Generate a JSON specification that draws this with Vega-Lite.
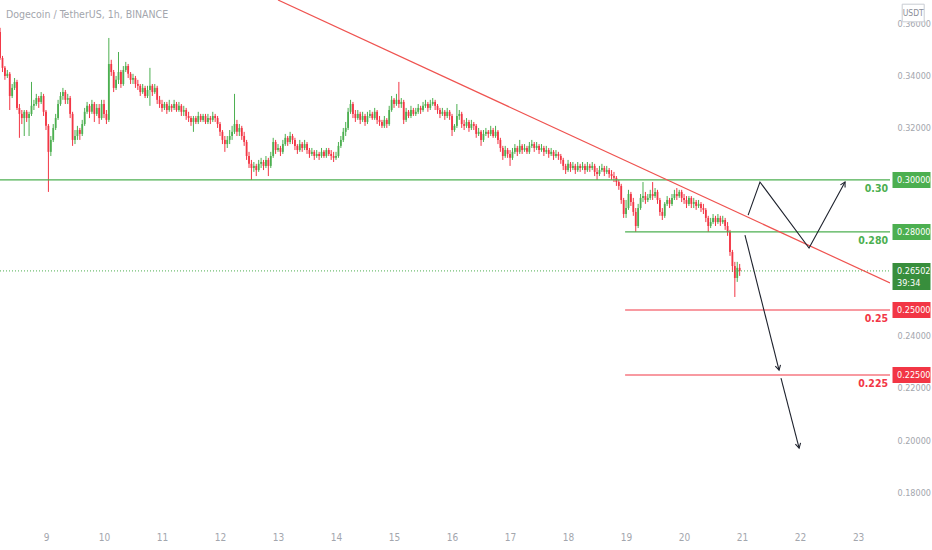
{
  "$schema": "https://vega.github.io/schema/vega-lite/v6.json",
  "width": 890,
  "height": 524,
  "autosize": "none",
  "padding": {"left": 0, "top": 0, "right": 42, "bottom": 26},
  "background": "white",
  "title": {
    "text": "Dogecoin / TetherUS, 1h, BINANCE",
    "anchor": "start",
    "frame": "group",
    "offset": -20,
    "dx": 6,
    "fontSize": 10.5,
    "fontWeight": "normal",
    "color": "#a3a6ad",
    "font": "DejaVu Sans Condensed, sans-serif"
  },
  "config": {
    "view": {"stroke": null},
    "axis": {
      "grid": false,
      "ticks": false,
      "domain": false,
      "labelColor": "#a3a6ad",
      "labelFontSize": 9,
      "labelFont": "DejaVu Sans Condensed, sans-serif"
    },
    "text": {"font": "DejaVu Sans Condensed, sans-serif"}
  },
  "datasets": {
    "candles": [
      {"t":-19,"o":0.3569,"h":0.3585,"l":0.3462,"c":0.3469},
      {"t":-18,"o":0.3469,"h":0.3477,"l":0.3415,"c":0.3431},
      {"t":-17,"o":0.3431,"h":0.3438,"l":0.3385,"c":0.3400},
      {"t":-16,"o":0.3400,"h":0.3423,"l":0.3392,"c":0.3408},
      {"t":-15,"o":0.3408,"h":0.3415,"l":0.3269,"c":0.3323},
      {"t":-14,"o":0.3323,"h":0.3369,"l":0.3315,"c":0.3354},
      {"t":-13,"o":0.3354,"h":0.3392,"l":0.3346,"c":0.3377},
      {"t":-12,"o":0.3377,"h":0.3385,"l":0.3269,"c":0.3277},
      {"t":-11,"o":0.3277,"h":0.3292,"l":0.3162,"c":0.3254},
      {"t":-10,"o":0.3254,"h":0.3269,"l":0.3215,"c":0.3238},
      {"t":-9,"o":0.3238,"h":0.3269,"l":0.3169,"c":0.3262},
      {"t":-8,"o":0.3262,"h":0.3269,"l":0.3223,"c":0.3238},
      {"t":-7,"o":0.3238,"h":0.3262,"l":0.3169,"c":0.3254},
      {"t":-6,"o":0.3254,"h":0.3377,"l":0.3246,"c":0.3285},
      {"t":-5,"o":0.3285,"h":0.3308,"l":0.3269,"c":0.3292},
      {"t":-4,"o":0.3292,"h":0.3331,"l":0.3285,"c":0.3315},
      {"t":-3,"o":0.3315,"h":0.3323,"l":0.3277,"c":0.3300},
      {"t":-2,"o":0.3300,"h":0.3338,"l":0.3292,"c":0.3323},
      {"t":-1,"o":0.3323,"h":0.3331,"l":0.3246,"c":0.3262},
      {"t":0,"o":0.3262,"h":0.3269,"l":0.3192,"c":0.3208},
      {"t":1,"o":0.3208,"h":0.3215,"l":0.2954,"c":0.3108},
      {"t":2,"o":0.3108,"h":0.3169,"l":0.3092,"c":0.3154},
      {"t":3,"o":0.3154,"h":0.3215,"l":0.3146,"c":0.3200},
      {"t":4,"o":0.3200,"h":0.3254,"l":0.3192,"c":0.3238},
      {"t":5,"o":0.3238,"h":0.3308,"l":0.3231,"c":0.3292},
      {"t":6,"o":0.3292,"h":0.3338,"l":0.3285,"c":0.3323},
      {"t":7,"o":0.3323,"h":0.3354,"l":0.3308,"c":0.3338},
      {"t":8,"o":0.3338,"h":0.3346,"l":0.3292,"c":0.3308},
      {"t":9,"o":0.3308,"h":0.3331,"l":0.3292,"c":0.3315},
      {"t":10,"o":0.3315,"h":0.3323,"l":0.3238,"c":0.3254},
      {"t":11,"o":0.3254,"h":0.3262,"l":0.3131,"c":0.3154},
      {"t":12,"o":0.3154,"h":0.3192,"l":0.3138,"c":0.3169},
      {"t":13,"o":0.3169,"h":0.3208,"l":0.3154,"c":0.3192},
      {"t":14,"o":0.3192,"h":0.3200,"l":0.3154,"c":0.3177},
      {"t":15,"o":0.3177,"h":0.3231,"l":0.3169,"c":0.3215},
      {"t":16,"o":0.3215,"h":0.3277,"l":0.3208,"c":0.3262},
      {"t":17,"o":0.3262,"h":0.3300,"l":0.3254,"c":0.3285},
      {"t":18,"o":0.3285,"h":0.3292,"l":0.3238,"c":0.3262},
      {"t":19,"o":0.3262,"h":0.3308,"l":0.3254,"c":0.3292},
      {"t":20,"o":0.3292,"h":0.3300,"l":0.3223,"c":0.3254},
      {"t":21,"o":0.3254,"h":0.3292,"l":0.3246,"c":0.3277},
      {"t":22,"o":0.3277,"h":0.3292,"l":0.3215,"c":0.3238},
      {"t":23,"o":0.3238,"h":0.3308,"l":0.3231,"c":0.3292},
      {"t":24,"o":0.3292,"h":0.3308,"l":0.3238,"c":0.3254},
      {"t":25,"o":0.3254,"h":0.3269,"l":0.3215,"c":0.3231},
      {"t":26,"o":0.3231,"h":0.3546,"l":0.3223,"c":0.3446},
      {"t":27,"o":0.3446,"h":0.3462,"l":0.3400,"c":0.3415},
      {"t":28,"o":0.3415,"h":0.3423,"l":0.3338,"c":0.3354},
      {"t":29,"o":0.3354,"h":0.3400,"l":0.3346,"c":0.3385},
      {"t":30,"o":0.3385,"h":0.3492,"l":0.3369,"c":0.3415},
      {"t":31,"o":0.3415,"h":0.3423,"l":0.3354,"c":0.3369},
      {"t":32,"o":0.3369,"h":0.3438,"l":0.3362,"c":0.3423},
      {"t":33,"o":0.3423,"h":0.3454,"l":0.3415,"c":0.3438},
      {"t":34,"o":0.3438,"h":0.3446,"l":0.3392,"c":0.3408},
      {"t":35,"o":0.3408,"h":0.3415,"l":0.3369,"c":0.3385},
      {"t":36,"o":0.3385,"h":0.3408,"l":0.3369,"c":0.3392},
      {"t":37,"o":0.3392,"h":0.3400,"l":0.3354,"c":0.3369},
      {"t":38,"o":0.3369,"h":0.3385,"l":0.3346,"c":0.3362},
      {"t":39,"o":0.3362,"h":0.3369,"l":0.3323,"c":0.3338},
      {"t":40,"o":0.3338,"h":0.3369,"l":0.3331,"c":0.3354},
      {"t":41,"o":0.3354,"h":0.3362,"l":0.3315,"c":0.3323},
      {"t":42,"o":0.3323,"h":0.3362,"l":0.3315,"c":0.3346},
      {"t":43,"o":0.3346,"h":0.3431,"l":0.3285,"c":0.3362},
      {"t":44,"o":0.3362,"h":0.3369,"l":0.3323,"c":0.3338},
      {"t":45,"o":0.3338,"h":0.3369,"l":0.3331,"c":0.3354},
      {"t":46,"o":0.3354,"h":0.3362,"l":0.3292,"c":0.3308},
      {"t":47,"o":0.3308,"h":0.3323,"l":0.3277,"c":0.3292},
      {"t":48,"o":0.3292,"h":0.3308,"l":0.3262,"c":0.3277},
      {"t":49,"o":0.3277,"h":0.3300,"l":0.3269,"c":0.3292},
      {"t":50,"o":0.3292,"h":0.3300,"l":0.3254,"c":0.3269},
      {"t":51,"o":0.3269,"h":0.3308,"l":0.3262,"c":0.3285},
      {"t":52,"o":0.3285,"h":0.3292,"l":0.3262,"c":0.3277},
      {"t":53,"o":0.3277,"h":0.3308,"l":0.3269,"c":0.3292},
      {"t":54,"o":0.3292,"h":0.3300,"l":0.3262,"c":0.3269},
      {"t":55,"o":0.3269,"h":0.3300,"l":0.3262,"c":0.3285},
      {"t":56,"o":0.3285,"h":0.3292,"l":0.3246,"c":0.3262},
      {"t":57,"o":0.3262,"h":0.3285,"l":0.3246,"c":0.3269},
      {"t":58,"o":0.3269,"h":0.3277,"l":0.3231,"c":0.3246},
      {"t":59,"o":0.3246,"h":0.3262,"l":0.3223,"c":0.3238},
      {"t":60,"o":0.3238,"h":0.3246,"l":0.3208,"c":0.3223},
      {"t":61,"o":0.3223,"h":0.3246,"l":0.3185,"c":0.3238},
      {"t":62,"o":0.3238,"h":0.3246,"l":0.3215,"c":0.3223},
      {"t":63,"o":0.3223,"h":0.3262,"l":0.3215,"c":0.3246},
      {"t":64,"o":0.3246,"h":0.3254,"l":0.3223,"c":0.3231},
      {"t":65,"o":0.3231,"h":0.3254,"l":0.3223,"c":0.3246},
      {"t":66,"o":0.3246,"h":0.3254,"l":0.3215,"c":0.3223},
      {"t":67,"o":0.3223,"h":0.3254,"l":0.3215,"c":0.3238},
      {"t":68,"o":0.3238,"h":0.3246,"l":0.3215,"c":0.3231},
      {"t":69,"o":0.3231,"h":0.3262,"l":0.3223,"c":0.3246},
      {"t":70,"o":0.3246,"h":0.3254,"l":0.3223,"c":0.3238},
      {"t":71,"o":0.3238,"h":0.3246,"l":0.3200,"c":0.3215},
      {"t":72,"o":0.3215,"h":0.3223,"l":0.3169,"c":0.3185},
      {"t":73,"o":0.3185,"h":0.3192,"l":0.3138,"c":0.3154},
      {"t":74,"o":0.3154,"h":0.3169,"l":0.3108,"c":0.3138},
      {"t":75,"o":0.3138,"h":0.3169,"l":0.3123,"c":0.3154},
      {"t":76,"o":0.3154,"h":0.3192,"l":0.3138,"c":0.3169},
      {"t":77,"o":0.3169,"h":0.3208,"l":0.3154,"c":0.3185},
      {"t":78,"o":0.3185,"h":0.3331,"l":0.3177,"c":0.3215},
      {"t":79,"o":0.3215,"h":0.3231,"l":0.3169,"c":0.3185},
      {"t":80,"o":0.3185,"h":0.3215,"l":0.3169,"c":0.3200},
      {"t":81,"o":0.3200,"h":0.3208,"l":0.3154,"c":0.3169},
      {"t":82,"o":0.3169,"h":0.3185,"l":0.3131,"c":0.3146},
      {"t":83,"o":0.3146,"h":0.3154,"l":0.3077,"c":0.3092},
      {"t":84,"o":0.3092,"h":0.3108,"l":0.3046,"c":0.3062},
      {"t":85,"o":0.3062,"h":0.3077,"l":0.3000,"c":0.3046},
      {"t":86,"o":0.3046,"h":0.3069,"l":0.3031,"c":0.3054},
      {"t":87,"o":0.3054,"h":0.3062,"l":0.3015,"c":0.3038},
      {"t":88,"o":0.3038,"h":0.3077,"l":0.3031,"c":0.3062},
      {"t":89,"o":0.3062,"h":0.3085,"l":0.3046,"c":0.3069},
      {"t":90,"o":0.3069,"h":0.3077,"l":0.3038,"c":0.3054},
      {"t":91,"o":0.3054,"h":0.3092,"l":0.3046,"c":0.3077},
      {"t":92,"o":0.3077,"h":0.3085,"l":0.3015,"c":0.3054},
      {"t":93,"o":0.3054,"h":0.3108,"l":0.3046,"c":0.3092},
      {"t":94,"o":0.3092,"h":0.3162,"l":0.3085,"c":0.3146},
      {"t":95,"o":0.3146,"h":0.3154,"l":0.3100,"c":0.3115},
      {"t":96,"o":0.3115,"h":0.3138,"l":0.3108,"c":0.3123},
      {"t":97,"o":0.3123,"h":0.3131,"l":0.3092,"c":0.3108},
      {"t":98,"o":0.3108,"h":0.3154,"l":0.3100,"c":0.3138},
      {"t":99,"o":0.3138,"h":0.3177,"l":0.3131,"c":0.3162},
      {"t":100,"o":0.3162,"h":0.3169,"l":0.3131,"c":0.3146},
      {"t":101,"o":0.3146,"h":0.3185,"l":0.3138,"c":0.3169},
      {"t":102,"o":0.3169,"h":0.3177,"l":0.3138,"c":0.3154},
      {"t":103,"o":0.3154,"h":0.3162,"l":0.3115,"c":0.3131},
      {"t":104,"o":0.3131,"h":0.3138,"l":0.3100,"c":0.3115},
      {"t":105,"o":0.3115,"h":0.3154,"l":0.3108,"c":0.3138},
      {"t":106,"o":0.3138,"h":0.3146,"l":0.3108,"c":0.3123},
      {"t":107,"o":0.3123,"h":0.3154,"l":0.3115,"c":0.3138},
      {"t":108,"o":0.3138,"h":0.3146,"l":0.3100,"c":0.3115},
      {"t":109,"o":0.3115,"h":0.3123,"l":0.3085,"c":0.3100},
      {"t":110,"o":0.3100,"h":0.3123,"l":0.3092,"c":0.3108},
      {"t":111,"o":0.3108,"h":0.3115,"l":0.3077,"c":0.3092},
      {"t":112,"o":0.3092,"h":0.3115,"l":0.3085,"c":0.3100},
      {"t":113,"o":0.3100,"h":0.3108,"l":0.3077,"c":0.3092},
      {"t":114,"o":0.3092,"h":0.3123,"l":0.3085,"c":0.3108},
      {"t":115,"o":0.3108,"h":0.3115,"l":0.3085,"c":0.3092},
      {"t":116,"o":0.3092,"h":0.3123,"l":0.3085,"c":0.3115},
      {"t":117,"o":0.3115,"h":0.3123,"l":0.3092,"c":0.3100},
      {"t":118,"o":0.3100,"h":0.3115,"l":0.3077,"c":0.3092},
      {"t":119,"o":0.3092,"h":0.3108,"l":0.3069,"c":0.3085},
      {"t":120,"o":0.3085,"h":0.3108,"l":0.3077,"c":0.3092},
      {"t":121,"o":0.3092,"h":0.3146,"l":0.3085,"c":0.3131},
      {"t":122,"o":0.3131,"h":0.3169,"l":0.3123,"c":0.3154},
      {"t":123,"o":0.3154,"h":0.3200,"l":0.3146,"c":0.3185},
      {"t":124,"o":0.3185,"h":0.3223,"l":0.3169,"c":0.3200},
      {"t":125,"o":0.3200,"h":0.3277,"l":0.3192,"c":0.3262},
      {"t":126,"o":0.3262,"h":0.3308,"l":0.3254,"c":0.3292},
      {"t":127,"o":0.3292,"h":0.3300,"l":0.3238,"c":0.3254},
      {"t":128,"o":0.3254,"h":0.3269,"l":0.3223,"c":0.3238},
      {"t":129,"o":0.3238,"h":0.3269,"l":0.3231,"c":0.3254},
      {"t":130,"o":0.3254,"h":0.3262,"l":0.3215,"c":0.3231},
      {"t":131,"o":0.3231,"h":0.3262,"l":0.3223,"c":0.3246},
      {"t":132,"o":0.3246,"h":0.3254,"l":0.3208,"c":0.3223},
      {"t":133,"o":0.3223,"h":0.3262,"l":0.3215,"c":0.3246},
      {"t":134,"o":0.3246,"h":0.3269,"l":0.3238,"c":0.3254},
      {"t":135,"o":0.3254,"h":0.3262,"l":0.3231,"c":0.3238},
      {"t":136,"o":0.3238,"h":0.3277,"l":0.3231,"c":0.3262},
      {"t":137,"o":0.3262,"h":0.3269,"l":0.3215,"c":0.3231},
      {"t":138,"o":0.3231,"h":0.3246,"l":0.3208,"c":0.3223},
      {"t":139,"o":0.3223,"h":0.3231,"l":0.3200,"c":0.3208},
      {"t":140,"o":0.3208,"h":0.3246,"l":0.3200,"c":0.3231},
      {"t":141,"o":0.3231,"h":0.3238,"l":0.3200,"c":0.3215},
      {"t":142,"o":0.3215,"h":0.3285,"l":0.3208,"c":0.3269},
      {"t":143,"o":0.3269,"h":0.3323,"l":0.3262,"c":0.3308},
      {"t":144,"o":0.3308,"h":0.3315,"l":0.3277,"c":0.3292},
      {"t":145,"o":0.3292,"h":0.3331,"l":0.3285,"c":0.3308},
      {"t":146,"o":0.3308,"h":0.3377,"l":0.3277,"c":0.3292},
      {"t":147,"o":0.3292,"h":0.3315,"l":0.3277,"c":0.3300},
      {"t":148,"o":0.3300,"h":0.3308,"l":0.3215,"c":0.3231},
      {"t":149,"o":0.3231,"h":0.3277,"l":0.3223,"c":0.3262},
      {"t":150,"o":0.3262,"h":0.3269,"l":0.3238,"c":0.3246},
      {"t":151,"o":0.3246,"h":0.3285,"l":0.3238,"c":0.3269},
      {"t":152,"o":0.3269,"h":0.3277,"l":0.3246,"c":0.3254},
      {"t":153,"o":0.3254,"h":0.3277,"l":0.3246,"c":0.3262},
      {"t":154,"o":0.3262,"h":0.3292,"l":0.3254,"c":0.3277},
      {"t":155,"o":0.3277,"h":0.3285,"l":0.3254,"c":0.3269},
      {"t":156,"o":0.3269,"h":0.3300,"l":0.3262,"c":0.3285},
      {"t":157,"o":0.3285,"h":0.3308,"l":0.3277,"c":0.3292},
      {"t":158,"o":0.3292,"h":0.3300,"l":0.3262,"c":0.3277},
      {"t":159,"o":0.3277,"h":0.3308,"l":0.3269,"c":0.3292},
      {"t":160,"o":0.3292,"h":0.3315,"l":0.3285,"c":0.3300},
      {"t":161,"o":0.3300,"h":0.3308,"l":0.3269,"c":0.3285},
      {"t":162,"o":0.3285,"h":0.3292,"l":0.3254,"c":0.3269},
      {"t":163,"o":0.3269,"h":0.3277,"l":0.3238,"c":0.3254},
      {"t":164,"o":0.3254,"h":0.3277,"l":0.3246,"c":0.3262},
      {"t":165,"o":0.3262,"h":0.3269,"l":0.3231,"c":0.3246},
      {"t":166,"o":0.3246,"h":0.3277,"l":0.3238,"c":0.3262},
      {"t":167,"o":0.3262,"h":0.3269,"l":0.3231,"c":0.3246},
      {"t":168,"o":0.3246,"h":0.3254,"l":0.3169,"c":0.3192},
      {"t":169,"o":0.3192,"h":0.3215,"l":0.3185,"c":0.3208},
      {"t":170,"o":0.3208,"h":0.3292,"l":0.3200,"c":0.3246},
      {"t":171,"o":0.3246,"h":0.3269,"l":0.3231,"c":0.3254},
      {"t":172,"o":0.3254,"h":0.3262,"l":0.3200,"c":0.3215},
      {"t":173,"o":0.3215,"h":0.3231,"l":0.3192,"c":0.3208},
      {"t":174,"o":0.3208,"h":0.3238,"l":0.3200,"c":0.3223},
      {"t":175,"o":0.3223,"h":0.3231,"l":0.3185,"c":0.3200},
      {"t":176,"o":0.3200,"h":0.3231,"l":0.3192,"c":0.3215},
      {"t":177,"o":0.3215,"h":0.3223,"l":0.3192,"c":0.3208},
      {"t":178,"o":0.3208,"h":0.3215,"l":0.3162,"c":0.3177},
      {"t":179,"o":0.3177,"h":0.3200,"l":0.3169,"c":0.3185},
      {"t":180,"o":0.3185,"h":0.3192,"l":0.3131,"c":0.3154},
      {"t":181,"o":0.3154,"h":0.3192,"l":0.3146,"c":0.3177},
      {"t":182,"o":0.3177,"h":0.3200,"l":0.3169,"c":0.3185},
      {"t":183,"o":0.3185,"h":0.3192,"l":0.3162,"c":0.3177},
      {"t":184,"o":0.3177,"h":0.3208,"l":0.3169,"c":0.3192},
      {"t":185,"o":0.3192,"h":0.3200,"l":0.3162,"c":0.3169},
      {"t":186,"o":0.3169,"h":0.3208,"l":0.3162,"c":0.3185},
      {"t":187,"o":0.3185,"h":0.3192,"l":0.3138,"c":0.3154},
      {"t":188,"o":0.3154,"h":0.3162,"l":0.3108,"c":0.3123},
      {"t":189,"o":0.3123,"h":0.3131,"l":0.3077,"c":0.3092},
      {"t":190,"o":0.3092,"h":0.3131,"l":0.3085,"c":0.3115},
      {"t":191,"o":0.3115,"h":0.3123,"l":0.3085,"c":0.3100},
      {"t":192,"o":0.3100,"h":0.3115,"l":0.3054,"c":0.3085},
      {"t":193,"o":0.3085,"h":0.3123,"l":0.3077,"c":0.3108},
      {"t":194,"o":0.3108,"h":0.3138,"l":0.3100,"c":0.3123},
      {"t":195,"o":0.3123,"h":0.3131,"l":0.3092,"c":0.3108},
      {"t":196,"o":0.3108,"h":0.3154,"l":0.3100,"c":0.3131},
      {"t":197,"o":0.3131,"h":0.3138,"l":0.3100,"c":0.3115},
      {"t":198,"o":0.3115,"h":0.3138,"l":0.3108,"c":0.3123},
      {"t":199,"o":0.3123,"h":0.3131,"l":0.3100,"c":0.3108},
      {"t":200,"o":0.3108,"h":0.3146,"l":0.3100,"c":0.3131},
      {"t":201,"o":0.3131,"h":0.3154,"l":0.3123,"c":0.3138},
      {"t":202,"o":0.3138,"h":0.3146,"l":0.3108,"c":0.3123},
      {"t":203,"o":0.3123,"h":0.3146,"l":0.3115,"c":0.3131},
      {"t":204,"o":0.3131,"h":0.3138,"l":0.3100,"c":0.3115},
      {"t":205,"o":0.3115,"h":0.3138,"l":0.3108,"c":0.3123},
      {"t":206,"o":0.3123,"h":0.3131,"l":0.3092,"c":0.3108},
      {"t":207,"o":0.3108,"h":0.3131,"l":0.3100,"c":0.3115},
      {"t":208,"o":0.3115,"h":0.3123,"l":0.3085,"c":0.3100},
      {"t":209,"o":0.3100,"h":0.3123,"l":0.3092,"c":0.3108},
      {"t":210,"o":0.3108,"h":0.3115,"l":0.3077,"c":0.3092},
      {"t":211,"o":0.3092,"h":0.3115,"l":0.3085,"c":0.3100},
      {"t":212,"o":0.3100,"h":0.3108,"l":0.3077,"c":0.3092},
      {"t":213,"o":0.3092,"h":0.3100,"l":0.3062,"c":0.3077},
      {"t":214,"o":0.3077,"h":0.3085,"l":0.3038,"c":0.3054},
      {"t":215,"o":0.3054,"h":0.3062,"l":0.3023,"c":0.3038},
      {"t":216,"o":0.3038,"h":0.3077,"l":0.3031,"c":0.3062},
      {"t":217,"o":0.3062,"h":0.3069,"l":0.3031,"c":0.3046},
      {"t":218,"o":0.3046,"h":0.3069,"l":0.3038,"c":0.3054},
      {"t":219,"o":0.3054,"h":0.3062,"l":0.3023,"c":0.3038},
      {"t":220,"o":0.3038,"h":0.3069,"l":0.3031,"c":0.3054},
      {"t":221,"o":0.3054,"h":0.3062,"l":0.3031,"c":0.3046},
      {"t":222,"o":0.3046,"h":0.3069,"l":0.3038,"c":0.3054},
      {"t":223,"o":0.3054,"h":0.3062,"l":0.3023,"c":0.3038},
      {"t":224,"o":0.3038,"h":0.3069,"l":0.3031,"c":0.3054},
      {"t":225,"o":0.3054,"h":0.3062,"l":0.3031,"c":0.3046},
      {"t":226,"o":0.3046,"h":0.3069,"l":0.3038,"c":0.3054},
      {"t":227,"o":0.3054,"h":0.3062,"l":0.3015,"c":0.3031},
      {"t":228,"o":0.3031,"h":0.3046,"l":0.3000,"c":0.3023},
      {"t":229,"o":0.3023,"h":0.3054,"l":0.3015,"c":0.3038},
      {"t":230,"o":0.3038,"h":0.3062,"l":0.3031,"c":0.3046},
      {"t":231,"o":0.3046,"h":0.3054,"l":0.3015,"c":0.3031},
      {"t":232,"o":0.3031,"h":0.3054,"l":0.3023,"c":0.3038},
      {"t":233,"o":0.3038,"h":0.3046,"l":0.3008,"c":0.3023},
      {"t":234,"o":0.3023,"h":0.3038,"l":0.3000,"c":0.3015},
      {"t":235,"o":0.3015,"h":0.3031,"l":0.2992,"c":0.3008},
      {"t":236,"o":0.3008,"h":0.3015,"l":0.2977,"c":0.2992},
      {"t":237,"o":0.2992,"h":0.3000,"l":0.2962,"c":0.2977},
      {"t":238,"o":0.2977,"h":0.2985,"l":0.2908,"c":0.2923},
      {"t":239,"o":0.2923,"h":0.2931,"l":0.2854,"c":0.2869},
      {"t":240,"o":0.2869,"h":0.2923,"l":0.2854,"c":0.2892},
      {"t":241,"o":0.2892,"h":0.2962,"l":0.2885,"c":0.2946},
      {"t":242,"o":0.2946,"h":0.2954,"l":0.2900,"c":0.2915},
      {"t":243,"o":0.2915,"h":0.2931,"l":0.2862,"c":0.2877},
      {"t":244,"o":0.2877,"h":0.2892,"l":0.2800,"c":0.2823},
      {"t":245,"o":0.2823,"h":0.2908,"l":0.2815,"c":0.2892},
      {"t":246,"o":0.2892,"h":0.2946,"l":0.2885,"c":0.2931},
      {"t":247,"o":0.2931,"h":0.2992,"l":0.2915,"c":0.2938},
      {"t":248,"o":0.2938,"h":0.2954,"l":0.2908,"c":0.2923},
      {"t":249,"o":0.2923,"h":0.2946,"l":0.2915,"c":0.2931},
      {"t":250,"o":0.2931,"h":0.2962,"l":0.2923,"c":0.2946},
      {"t":251,"o":0.2946,"h":0.2992,"l":0.2923,"c":0.2938},
      {"t":252,"o":0.2938,"h":0.2969,"l":0.2931,"c":0.2954},
      {"t":253,"o":0.2954,"h":0.2962,"l":0.2908,"c":0.2923},
      {"t":254,"o":0.2923,"h":0.2931,"l":0.2862,"c":0.2877},
      {"t":255,"o":0.2877,"h":0.2892,"l":0.2846,"c":0.2862},
      {"t":256,"o":0.2862,"h":0.2915,"l":0.2854,"c":0.2908},
      {"t":257,"o":0.2908,"h":0.2938,"l":0.2900,"c":0.2923},
      {"t":258,"o":0.2923,"h":0.2931,"l":0.2892,"c":0.2908},
      {"t":259,"o":0.2908,"h":0.2946,"l":0.2900,"c":0.2931},
      {"t":260,"o":0.2931,"h":0.2962,"l":0.2923,"c":0.2946},
      {"t":261,"o":0.2946,"h":0.2969,"l":0.2923,"c":0.2938},
      {"t":262,"o":0.2938,"h":0.2962,"l":0.2931,"c":0.2954},
      {"t":263,"o":0.2954,"h":0.2962,"l":0.2915,"c":0.2931},
      {"t":264,"o":0.2931,"h":0.2946,"l":0.2908,"c":0.2923},
      {"t":265,"o":0.2923,"h":0.2938,"l":0.2892,"c":0.2908},
      {"t":266,"o":0.2908,"h":0.2938,"l":0.2900,"c":0.2931},
      {"t":267,"o":0.2931,"h":0.2938,"l":0.2892,"c":0.2908},
      {"t":268,"o":0.2908,"h":0.2931,"l":0.2892,"c":0.2915},
      {"t":269,"o":0.2915,"h":0.2923,"l":0.2885,"c":0.2900},
      {"t":270,"o":0.2900,"h":0.2923,"l":0.2892,"c":0.2908},
      {"t":271,"o":0.2908,"h":0.2915,"l":0.2877,"c":0.2892},
      {"t":272,"o":0.2892,"h":0.2908,"l":0.2869,"c":0.2885},
      {"t":273,"o":0.2885,"h":0.2892,"l":0.2838,"c":0.2854},
      {"t":274,"o":0.2854,"h":0.2862,"l":0.2800,"c":0.2823},
      {"t":275,"o":0.2823,"h":0.2854,"l":0.2815,"c":0.2838},
      {"t":276,"o":0.2838,"h":0.2869,"l":0.2831,"c":0.2854},
      {"t":277,"o":0.2854,"h":0.2862,"l":0.2823,"c":0.2838},
      {"t":278,"o":0.2838,"h":0.2869,"l":0.2831,"c":0.2854},
      {"t":279,"o":0.2854,"h":0.2862,"l":0.2823,"c":0.2838},
      {"t":280,"o":0.2838,"h":0.2862,"l":0.2831,"c":0.2846},
      {"t":281,"o":0.2846,"h":0.2854,"l":0.2808,"c":0.2823},
      {"t":282,"o":0.2823,"h":0.2838,"l":0.2785,"c":0.2800},
      {"t":283,"o":0.2800,"h":0.2808,"l":0.2708,"c":0.2723},
      {"t":284,"o":0.2723,"h":0.2731,"l":0.2646,"c":0.2669},
      {"t":285,"o":0.2669,"h":0.2685,"l":0.2550,"c":0.2623},
      {"t":286,"o":0.2623,"h":0.2685,"l":0.2608,"c":0.2662},
      {"t":287,"o":0.2662,"h":0.2677,"l":0.2631,"c":0.2650}
    ],
    "levels": [
      {"p":0.30,"t0":-19.03,"dir":"up","label":"0.30","box":"0.30000"},
      {"p":0.28,"t0":239.6,"dir":"up","label":"0.280","box":"0.28000"},
      {"p":0.25,"t0":239.6,"dir":"down","label":"0.25","box":"0.25000"},
      {"p":0.225,"t0":239.6,"dir":"down","label":"0.225","box":"0.22500"}
    ],
    "last": [
      {"p":0.26502,"price":"0.26502","countdown":"39:34"}
    ],
    "trend": [
      {"t":96.0,"p":0.3692},
      {"t":349.2,"p":0.2604}
    ],
    "arrows": [
      {"seg":"a","i":0,"t":290.5,"p":0.2865},
      {"seg":"a","i":1,"t":295.4,"p":0.2992},
      {"seg":"a","i":2,"t":315.7,"p":0.2738},
      {"seg":"a","i":3,"t":330.6,"p":0.2992},
      {"seg":"b","i":0,"t":289.2,"p":0.2788},
      {"seg":"b","i":1,"t":303.3,"p":0.2269},
      {"seg":"c","i":0,"t":304.1,"p":0.2238},
      {"seg":"c","i":1,"t":311.6,"p":0.1969}
    ],
    "tips": [
      {"seg":"a","t":330.6,"p":0.2992},
      {"seg":"b","t":303.3,"p":0.2269},
      {"seg":"c","t":311.6,"p":0.1969}
    ]
  },
  "encoding": {
    "x": {
      "type": "quantitative",
      "scale": {"domain": [-19.03, 349.2], "nice": false, "zero": false, "padding": 0},
      "axis": {
        "orient": "bottom",
        "title": null,
        "values": [0, 24, 48, 72, 96, 120, 144, 168, 192, 216, 240, 264, 288, 312, 336],
        "labelExpr": "datum.value / 24 + 9",
        "labelPadding": 8,
        "labelFontSize": 10
      }
    },
    "y": {
      "type": "quantitative",
      "scale": {"domain": [0.1677, 0.3692], "nice": false, "zero": false},
      "axis": {
        "orient": "right",
        "title": null,
        "values": [0.18, 0.2, 0.22, 0.24, 0.32, 0.34, 0.36],
        "format": ".5f",
        "labelPadding": 7
      }
    }
  },
  "layer": [
    {
      "data": {"name": "candles"},
      "mark": {"type": "rule", "strokeWidth": 1},
      "encoding": {
        "x": {"field": "t", "type": "quantitative"},
        "y": {"field": "l", "type": "quantitative"},
        "y2": {"field": "h"},
        "color": {
          "condition": {"test": "datum.c >= datum.o", "value": "#4caf50"},
          "value": "#f23645"
        }
      }
    },
    {
      "data": {"name": "candles"},
      "mark": {"type": "bar", "size": 1.8},
      "encoding": {
        "x": {"field": "t", "type": "quantitative"},
        "y": {"field": "o", "type": "quantitative"},
        "y2": {"field": "c"},
        "color": {
          "condition": {"test": "datum.c >= datum.o", "value": "#4caf50"},
          "value": "#f23645"
        }
      }
    },
    {
      "data": {"name": "levels"},
      "mark": {"type": "rule", "strokeWidth": 1.2},
      "encoding": {
        "x": {"field": "t0", "type": "quantitative"},
        "x2": {"datum": 349.2},
        "y": {"field": "p", "type": "quantitative"},
        "color": {
          "field": "dir",
          "type": "nominal",
          "scale": {"domain": ["up", "down"], "range": ["#4caf50", "#f23645"]},
          "legend": null
        }
      }
    },
    {
      "data": {"name": "last"},
      "mark": {"type": "rule", "strokeWidth": 1, "strokeDash": [1, 2], "color": "#4caf50"},
      "encoding": {
        "x": {"datum": -19.03, "type": "quantitative"},
        "x2": {"datum": 349.2},
        "y": {"field": "p", "type": "quantitative"}
      }
    },
    {
      "data": {"name": "trend"},
      "mark": {"type": "line", "strokeWidth": 1.2, "color": "#ef5350", "clip": true},
      "encoding": {
        "x": {"field": "t", "type": "quantitative"},
        "y": {"field": "p", "type": "quantitative"}
      }
    },
    {
      "data": {"name": "arrows"},
      "mark": {"type": "line", "strokeWidth": 1.1, "color": "#1e222d"},
      "encoding": {
        "x": {"field": "t", "type": "quantitative"},
        "y": {"field": "p", "type": "quantitative"},
        "detail": {"field": "seg", "type": "nominal"},
        "order": {"field": "i", "type": "quantitative"}
      }
    },
    {
      "data": {"name": "tips"},
      "mark": {
        "type": "point",
        "shape": "M-0.45,0.8L0,0L0.45,0.8",
        "filled": false,
        "strokeWidth": 1.1,
        "color": "#1e222d",
        "opacity": 1,
        "size": 140
      },
      "encoding": {
        "x": {"field": "t", "type": "quantitative"},
        "y": {"field": "p", "type": "quantitative"},
        "angle": {
          "condition": {"test": "datum.seg == 'a'", "value": 29},
          "value": 166
        }
      }
    },
    {
      "data": {"name": "levels"},
      "mark": {"type": "text", "align": "right", "baseline": "middle", "dy": 9, "fontSize": 10.5, "fontWeight": "bold"},
      "encoding": {
        "x": {"datum": 348.4, "type": "quantitative"},
        "y": {"field": "p", "type": "quantitative"},
        "text": {"field": "label"},
        "color": {
          "field": "dir",
          "type": "nominal",
          "scale": {"domain": ["up", "down"], "range": ["#4caf50", "#f23645"]},
          "legend": null
        }
      }
    },
    {
      "data": {"name": "levels"},
      "mark": {
        "type": "point",
        "shape": "M-1,-0.42L1,-0.42L1,0.42L-1,0.42Z",
        "filled": true,
        "opacity": 1,
        "size": 1444
      },
      "encoding": {
        "x": {"datum": 358.1, "type": "quantitative"},
        "y": {"field": "p", "type": "quantitative"},
        "color": {
          "field": "dir",
          "type": "nominal",
          "scale": {"domain": ["up", "down"], "range": ["#4caf50", "#f23645"]},
          "legend": null
        }
      }
    },
    {
      "data": {"name": "last"},
      "mark": {
        "type": "point",
        "shape": "M-1,-0.42L1,-0.42L1,1L-1,1Z",
        "filled": true,
        "opacity": 1,
        "size": 1444,
        "color": "#388e3c"
      },
      "encoding": {
        "x": {"datum": 358.1, "type": "quantitative"},
        "y": {"field": "p", "type": "quantitative"}
      }
    },
    {
      "data": {"name": "levels"},
      "mark": {"type": "text", "align": "left", "baseline": "middle", "fontSize": 9, "color": "white"},
      "encoding": {
        "x": {"datum": 352.1, "type": "quantitative"},
        "y": {"field": "p", "type": "quantitative"},
        "text": {"field": "box"}
      }
    },
    {
      "data": {"name": "last"},
      "mark": {"type": "text", "align": "left", "baseline": "middle", "fontSize": 9, "color": "white"},
      "encoding": {
        "x": {"datum": 352.1, "type": "quantitative"},
        "y": {"field": "p", "type": "quantitative"},
        "text": {"field": "price"}
      }
    },
    {
      "data": {"name": "last"},
      "mark": {"type": "text", "align": "left", "baseline": "middle", "dy": 12, "fontSize": 9, "color": "white"},
      "encoding": {
        "x": {"datum": 352.1, "type": "quantitative"},
        "y": {"field": "p", "type": "quantitative"},
        "text": {"field": "countdown"}
      }
    },
    {
      "data": {"values": [{"unit": "USDT"}]},
      "mark": {
        "type": "point",
        "shape": "M-1,-0.8L1,-0.8L1,0.8L-1,0.8Z",
        "filled": true,
        "fill": "white",
        "stroke": "#c9ccd3",
        "strokeWidth": 1,
        "opacity": 1,
        "size": 484
      },
      "encoding": {
        "x": {"datum": 358.8, "type": "quantitative"},
        "y": {"datum": 0.3642, "type": "quantitative"}
      }
    },
    {
      "data": {"values": [{"unit": "USDT"}]},
      "mark": {"type": "text", "align": "center", "baseline": "middle", "fontSize": 8.5, "color": "#8a8d96"},
      "encoding": {
        "x": {"datum": 358.8, "type": "quantitative"},
        "y": {"datum": 0.3642, "type": "quantitative"},
        "text": {"field": "unit"}
      }
    }
  ]
}
